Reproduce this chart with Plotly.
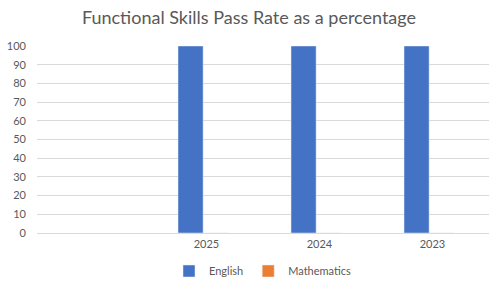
import plotly.graph_objects as go

categories = ["", "2025", "2024", "2023"]
english = [None, 100, 100, 100]
mathematics = [None, 0, 0, 0]
y_ticks = [0, 10, 20, 30, 40, 50, 60, 70, 80, 90, 100]

xpos = list(range(len(categories)))

fig = go.Figure()
fig.add_trace(go.Bar(x=xpos, y=english, name="English", marker_color="#4472C4",
                     width=0.222, offset=-0.252))
fig.add_trace(go.Bar(x=xpos, y=mathematics, name="Mathematics", marker_color="#ED7D31",
                     width=0.222, offset=-0.030))

font_fam = "Lato, 'Open Sans', sans-serif"
fig.update_layout(
    width=498, height=291,
    margin=dict(l=37, r=9, t=46, b=58, autoexpand=False),
    paper_bgcolor="white", plot_bgcolor="white",
    barmode="overlay",
    title=dict(text="Functional Skills Pass Rate as a percentage", x=0.5, xanchor="center",
               y=1 - 18 / 291, yanchor="middle",
               font=dict(family=font_fam, size=18, color="#595959")),
    font=dict(family=font_fam, size=11, color="#595959"),
    showlegend=True,
    legend=dict(orientation="h", x=0.5, xanchor="center", y=-38 / 187, yanchor="middle",
                font=dict(size=11, color="#595959"), itemwidth=30,
                traceorder="normal"),
    xaxis=dict(range=[-0.5, len(categories) - 0.5], tickvals=xpos, ticktext=categories,
               showgrid=False, zeroline=False, showline=True, linecolor="#d9d9d9",
               ticks="", automargin=False, ticklabelstandoff=1,
               tickfont=dict(size=11, color="#595959")),
    yaxis=dict(range=[0, 100], tickvals=y_ticks, showgrid=True, gridcolor="#d9d9d9",
               zeroline=False, showline=False, ticks="", automargin=False,
               ticklabelstandoff=10,
               tickfont=dict(size=11, color="#595959")),
)

fig.write_html("out.html")
